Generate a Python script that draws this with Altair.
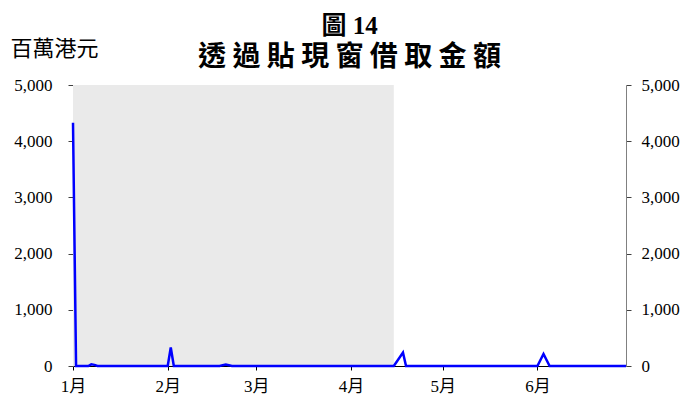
import altair as alt
import pandas as pd

# Data (daily-level turning points), HK$ million
dates = [
    "2020-01-01T00:00:00", "2020-01-02T00:00:00", "2020-01-06T00:00:00", "2020-01-07T00:00:00",
    "2020-01-08T00:00:00", "2020-01-09T00:00:00", "2020-02-01T00:00:00", "2020-02-02T00:00:00",
    "2020-02-03T00:00:00", "2020-02-18T00:00:00", "2020-02-19T00:00:00", "2020-02-20T00:00:00",
    "2020-02-21T00:00:00", "2020-02-22T00:00:00", "2020-04-15T00:00:00", "2020-04-18T00:00:00",
    "2020-04-19T00:00:00", "2020-06-01T00:00:00", "2020-06-03T00:00:00", "2020-06-05T00:00:00",
    "2020-06-30T00:00:00",
]
values = [4330, 0, 0, 30, 20, 0, 0, 330, 0, 0, 15, 25, 15, 0, 0, 240, 0, 0, 215, 0, 0]

shade_start = ["2020-01-01T00:00:00"]
shade_end = ["2020-04-15T00:00:00"]

y_ticks = [0, 1000, 2000, 3000, 4000, 5000]
month_starts = [1, 2, 3, 4, 5, 6]

line_df = pd.DataFrame({"date": dates, "value": values})
shade_df = pd.DataFrame({"start": shade_start, "end": shade_end})

W, H = 553, 281
SERIF = "Liberation Serif, Noto Sans CJK TC"
CJK = "Noto Sans CJK TC"

x_scale = alt.Scale(domain=[alt.DateTime(year=2020, month=1, date=1),
                            alt.DateTime(year=2020, month=6, date=30)])
y_scale = alt.Scale(domain=[0, 5000], nice=False)

x_axis = alt.Axis(
    values=[alt.DateTime(year=2020, month=m, date=1) for m in month_starts],
    labelExpr="(month(datum.value) + 1) + '月'",
    title="", grid=False, tickSize=4, labelPadding=8,
    labelFont=SERIF, labelFontSize=17, labelColor="black",
    domainColor="black", tickColor="black", labelFlush=False,
)

shade = alt.Chart(shade_df).mark_rect(color="#EAEAEA").encode(
    x=alt.X("start:T", scale=x_scale, axis=x_axis),
    x2="end:T",
    y=alt.value(0),
    y2=alt.value(H),
)

left_line = alt.Chart(line_df).mark_line(color="#0000FF", strokeWidth=2.5).encode(
    x=alt.X("date:T", scale=x_scale, axis=x_axis),
    y=alt.Y("value:Q", scale=y_scale, axis=alt.Axis(
        orient="left", values=y_ticks, format=",.0f", grid=False,
        tickSize=5, labelPadding=16, labelFont=SERIF, labelFontSize=17,
        labelColor="black", domainColor="#808080", tickColor="#404040",
        title="百萬港元", titleAngle=0, titleX=-63, titleY=-37,
        titleAlign="left", titleBaseline="middle", titleFont=CJK,
        titleFontSize=22, titleFontWeight="normal", titleColor="black",
    )),
)

right_line = alt.Chart(line_df).mark_line(color="#0000FF", strokeWidth=2.5, opacity=0).encode(
    x=alt.X("date:T", scale=x_scale, axis=x_axis),
    y=alt.Y("value:Q", scale=y_scale, axis=alt.Axis(
        orient="right", values=y_ticks, format=",.0f", grid=False,
        tickSize=5, labelPadding=10, labelFont=SERIF, labelFontSize=17,
        labelColor="black", domainColor="#808080", tickColor="#404040",
        title="",
    )),
)

chart = alt.layer(shade, left_line, right_line).resolve_scale(y="independent").properties(
    width=W, height=H,
    autosize=alt.AutoSizeParams(type="none"),
    padding={"left": 65, "top": 77, "right": 54, "bottom": 30},
    title=alt.TitleParams(
        text="圖 14", subtitle="透 過 貼 現 窗 借 取 金 額",
        font=SERIF, fontSize=25, fontWeight="bold", color="black",
        subtitleFont=CJK, subtitleFontSize=28, subtitleFontWeight="bold",
        subtitleColor="black", anchor="middle", offset=8, subtitlePadding=5,
        dy=43,
    ),
).configure_view(strokeWidth=0)

chart.save("out.html", embed_options={"renderer": "svg", "actions": False})
